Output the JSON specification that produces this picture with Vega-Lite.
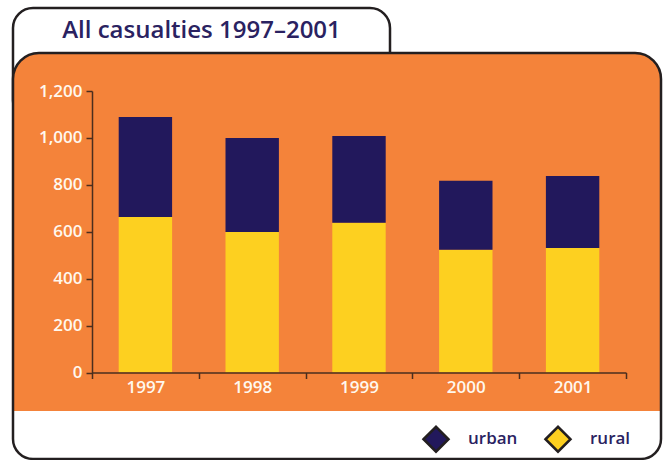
{
  "$schema": "https://vega.github.io/schema/vega-lite/v6.json",
  "padding": {"left": 11, "top": 6, "right": 0, "bottom": 0},
  "autosize": {"type": "pad"},
  "background": "white",
  "spacing": 0,
  "bounds": "flush",
  "config": {"view": {"stroke": null}, "font": "Open Sans"},
  "resolve": {"scale": {"x": "independent", "y": "independent"}},
  "vconcat": [
    {
      "width": 377,
      "height": 45,
      "data": {"values": [{"title": "All casualties 1997–2001"}]},
      "layer": [
        {
          "mark": {"type": "rect", "fill": "white", "stroke": "#231F20", "strokeWidth": 2.5, "cornerRadius": 20},
          "encoding": {
            "y": {"datum": 1, "type": "quantitative", "scale": {"domain": [0, 1], "nice": false, "zero": false}, "axis": null},
            "y2": {"datum": -1.5}
          }
        },
        {
          "mark": {"type": "text", "fontSize": 24, "color": "#2A2261", "font": "Open Sans", "fontWeight": 600},
          "encoding": {"text": {"field": "title", "type": "nominal"}}
        }
      ]
    },
    {
      "width": 648,
      "height": 406,
      "layer": [
        {
          "data": {"values": [{"part": "panel"}]},
          "mark": {"type": "rect", "fill": "white", "cornerRadiusTopLeft": 26, "cornerRadiusTopRight": 26, "cornerRadiusBottomLeft": 20, "cornerRadiusBottomRight": 20},
          "encoding": {
            "y": {"datum": 1362, "type": "quantitative"},
            "y2": {"datum": -369}
          }
        },
        {
          "data": {"values": [{"part": "plot"}]},
          "mark": {"type": "rect", "fill": "#F4833A", "cornerRadiusTopLeft": 26, "cornerRadiusTopRight": 26},
          "encoding": {
            "y": {"datum": 1362, "type": "quantitative"},
            "y2": {"datum": -164}
          }
        },
        {
          "data": {"values": [
            {"year": "1997", "series": "rural", "casualties": 663},
            {"year": "1997", "series": "urban", "casualties": 426},
            {"year": "1998", "series": "rural", "casualties": 599},
            {"year": "1998", "series": "urban", "casualties": 401},
            {"year": "1999", "series": "rural", "casualties": 638},
            {"year": "1999", "series": "urban", "casualties": 370},
            {"year": "2000", "series": "rural", "casualties": 523},
            {"year": "2000", "series": "urban", "casualties": 294},
            {"year": "2001", "series": "rural", "casualties": 531},
            {"year": "2001", "series": "urban", "casualties": 307}
          ]},
          "mark": {"type": "bar", "width": {"band": 0.5}},
          "encoding": {
            "x": {
              "field": "year", "type": "nominal",
              "scale": {"range": [79, 613], "paddingInner": 0, "paddingOuter": 0},
              "axis": {
                "orient": "bottom", "offset": -86.5, "title": null, "labelAngle": 0, "tickBand": "extent",
                "domainColor": "#4A2E1E", "domainWidth": 1.5, "tickColor": "#4A2E1E", "tickWidth": 1.5, "tickSize": 6,
                "labelColor": "#FFF8EE", "labelFontSize": 17, "labelFont": "Open Sans", "labelFontWeight": 600, "labelPadding": 1, "zindex": 1, "grid": false
              }
            },
            "y": {
              "field": "casualties", "type": "quantitative", "stack": "zero",
              "scale": {"domain": [0, 1200], "range": [319.5, 38], "nice": false},
              "axis": {
                "orient": "left", "offset": -79, "title": null, "values": [0, 200, 400, 600, 800, 1000, 1200], "format": ",d",
                "grid": false, "domainColor": "#4A2E1E", "domainWidth": 1.5, "tickColor": "#4A2E1E", "tickWidth": 1.5, "tickSize": 6,
                "labelColor": "#FFF8EE", "labelFontSize": 17, "labelFont": "Open Sans", "labelFontWeight": 600, "labelPadding": 4, "zindex": 1
              }
            },
            "color": {
              "field": "series", "type": "nominal",
              "scale": {"domain": ["urban", "rural"], "range": ["#22185C", "#FDD020"]},
              "legend": {
                "orient": "none", "legendX": 409, "legendY": 417, "direction": "horizontal", "title": null,
                "symbolType": "diamond", "symbolSize": 625, "symbolStrokeColor": "#231F20", "symbolStrokeWidth": 2.5,
                "labelFontSize": 17, "labelColor": "#2A2261", "labelFont": "Open Sans", "labelFontWeight": 600,
                "labelOffset": 18, "columnPadding": 22
              }
            },
            "order": {"field": "series", "type": "nominal", "sort": "ascending"}
          }
        },
        {
          "data": {"values": [{"part": "frame"}]},
          "mark": {"type": "rect", "fill": "transparent", "stroke": "#231F20", "strokeWidth": 2.5, "cornerRadiusTopLeft": 26, "cornerRadiusTopRight": 26, "cornerRadiusBottomLeft": 20, "cornerRadiusBottomRight": 20},
          "encoding": {
            "y": {"datum": 1362, "type": "quantitative"},
            "y2": {"datum": -369}
          }
        }
      ]
    }
  ]
}
